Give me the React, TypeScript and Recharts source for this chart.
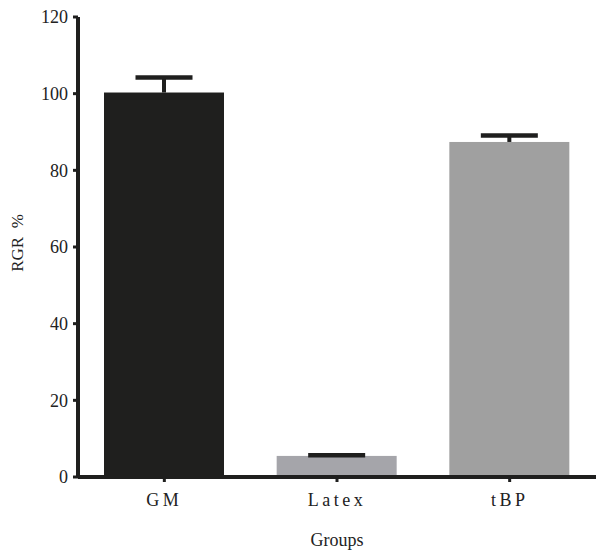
import React from "react"
import { BarChart, Bar, XAxis, YAxis, Cell } from "recharts"

const groups = ["GM", "Latex", "tBP"]
const rgrMeans = [100.3, 5.5, 87.4]
const rgrErrors = [3.9, 0.2, 1.7]
const yTicks = [0, 20, 40, 60, 80, 100, 120]

const barColors = ["#1f1f1e", "#a5a5aa", "#a0a0a0"]
const ink = "#1f1f1e"
const font = "'Liberation Serif', 'Times New Roman', serif"

const data = groups.map((g, i) => ({ group: g, rgr: rgrMeans[i], err: rgrErrors[i] }))

// bar + upward-only error bar (stem and cap)
function BarWithError(props: any) {
  const { x, y, width, height, fill, payload } = props
  const pxPerUnit = payload.rgr ? height / payload.rgr : 0
  const top = y - payload.err * pxPerUnit
  const cx = x + width / 2
  return (
    <g>
      <rect x={x} y={y} width={width} height={height} fill={fill} />
      <line x1={cx} x2={cx} y1={y} y2={top} stroke={ink} strokeWidth={4} />
      <line x1={cx - 28.5} x2={cx + 28.5} y1={top} y2={top} stroke={ink} strokeWidth={4.5} />
    </g>
  )
}

function GroupTick(props: any) {
  const { x, y, payload } = props
  return (
    <text x={x} y={y + 22} textAnchor="middle" fill="#222" fontSize={18} fontFamily={font} letterSpacing={3.5}>
      {payload.value}
    </text>
  )
}

function YLabel(props: any) {
  const { viewBox } = props
  const cy = viewBox.y + viewBox.height / 2 - 4
  return (
    <text x={17} y={cy} transform={`rotate(-90 17 ${cy})`} textAnchor="middle" dominantBaseline="central" fill="#222" fontSize={17} fontFamily={font} style={{ whiteSpace: "pre" }}>
      RGR  %
    </text>
  )
}

function XLabel(props: any) {
  const { viewBox } = props
  const cx = viewBox.x + viewBox.width / 2
  return (
    <text x={cx} y={546} textAnchor="middle" fill="#222" fontSize={18} fontFamily={font}>
      Groups
    </text>
  )
}

export default function App() {
  return (
    <div style={{ position: "absolute", left: 0, top: 0, background: "#fff" }}>
      <BarChart width={596} height={555} data={data} margin={{ top: 17, right: 0, left: 0, bottom: 0 }}>
        <XAxis
          dataKey="group"
          height={78}
          axisLine={{ stroke: ink, strokeWidth: 4 }}
          tickLine={{ stroke: ink, strokeWidth: 3 }}
          tickSize={5}
          tickMargin={2}
          tick={<GroupTick />}
          label={<XLabel />}
        />
        <YAxis
          width={78}
          domain={[0, 120]}
          ticks={yTicks}
          axisLine={{ stroke: ink, strokeWidth: 4 }}
          tickLine={{ stroke: ink, strokeWidth: 3 }}
          tickSize={5}
          tickMargin={5}
          tick={{ fontSize: 18, fill: "#222", fontFamily: font }}
          label={<YLabel />}
        />
        <Bar dataKey="rgr" barSize={120} shape={<BarWithError />} isAnimationActive={false}>
          {data.map((d, i) => (
            <Cell key={d.group} fill={barColors[i]} />
          ))}
        </Bar>
      </BarChart>
    </div>
  )
}
